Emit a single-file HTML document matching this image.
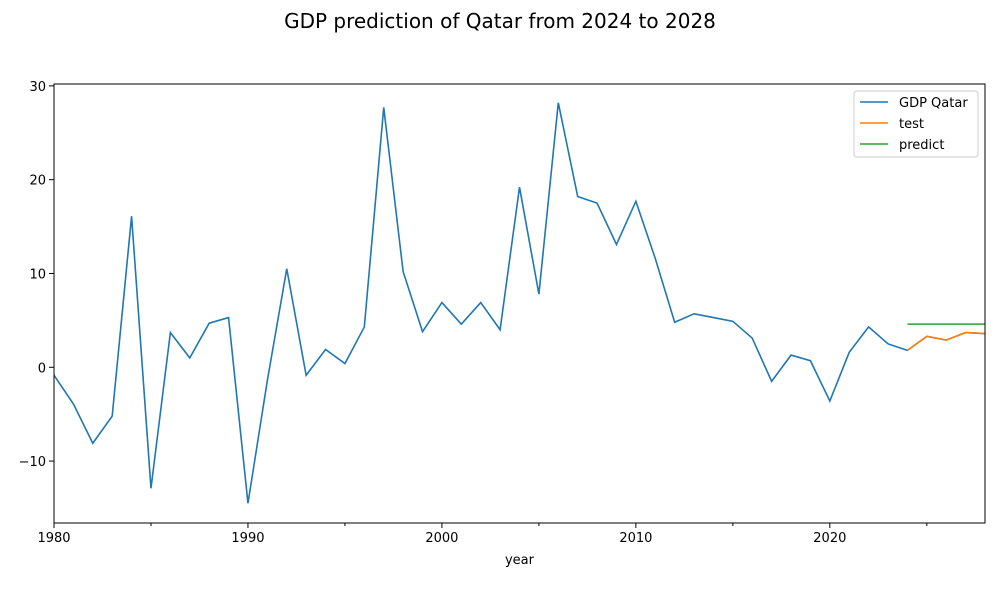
<!DOCTYPE html>
<html><head><meta charset="utf-8"><style>
body{margin:0;background:#fff;font-family:"Liberation Sans","DejaVu Sans",sans-serif;}
svg text{font-family:"DejaVu Sans","Liberation Sans",sans-serif;}
</style></head><body>
<svg id="chart" width="1000" height="600" xmlns="http://www.w3.org/2000/svg">
<text x="500" y="28" text-anchor="middle" font-size="20">GDP prediction of Qatar from 2024 to 2028</text>
<g id="plot"></g>
</svg>
<script>
const years=[1980,1981,1982,1983,1984,1985,1986,1987,1988,1989,1990,1991,1992,1993,1994,1995,1996,1997,1998,1999,2000,2001,2002,2003,2004,2005,2006,2007,2008,2009,2010,2011,2012,2013,2014,2015,2016,2017,2018,2019,2020,2021,2022,2023,2024,2025,2026,2027,2028];
const gdp=[-0.85,-3.9,-8.1,-5.2,16.1,-12.9,3.7,1.0,4.7,5.3,-14.5,-1.4,10.5,-0.85,1.9,0.4,4.3,27.7,10.2,3.8,6.9,4.6,6.9,4.0,19.2,7.8,28.2,18.2,17.5,13.1,17.7,11.6,4.8,5.7,5.3,4.9,3.1,-1.5,1.3,0.7,-3.6,1.6,4.3,2.5,1.8,3.3,2.9,3.7,3.6];
const testYears=[2024,2025,2026,2027,2028];
const testVals=[1.8,3.3,2.9,3.7,3.6];
const predYears=[2024,2025,2026,2027,2028];
const predVals=[4.6,4.6,4.6,4.6,4.6];
const xTicks=[1980,1990,2000,2010,2020];
const xMinor=[1985,1995,2005,2015,2025];
const yTicks=[-10,0,10,20,30];
const yTickLabels=["−10","0","10","20","30"];

const L=54,R=985,T=84,B=523,x0=1980,x1=2028,y0=-16.6,y1=30.2;
const X=v=>L+(v-x0)/(x1-x0)*(R-L);
const Y=v=>B-(v-y0)/(y1-y0)*(B-T);
const NS="http://www.w3.org/2000/svg";
const g=document.getElementById('plot');
function mk(t,a){const e=document.createElementNS(NS,t);for(const k in a)e.setAttribute(k,a[k]);g.appendChild(e);return e;}
// clip
const defs=mk('defs',{});const cp=document.createElementNS(NS,'clipPath');cp.setAttribute('id','c');const cr=document.createElementNS(NS,'rect');
cr.setAttribute('x',L);cr.setAttribute('y',T);cr.setAttribute('width',R-L);cr.setAttribute('height',B-T);cp.appendChild(cr);defs.appendChild(cp);
function line(xs,ys,color,name){const p=mk('polyline',{points:xs.map((v,i)=>X(v)+','+Y(ys[i])).join(' '),fill:'none',stroke:color,'stroke-width':1.6,'clip-path':'url(#c)'});

}
line(years,gdp,'#1f77b4','series-gdp-qatar');
line(testYears,testVals,'#ff7f0e','series-test');
line(predYears,predVals,'#2ca02c','series-predict');
const fr=mk('rect',{x:L,y:T,width:R-L,height:B-T,fill:'none',stroke:'#000','stroke-width':1});


xTicks.forEach(v=>{mk('line',{x1:X(v),x2:X(v),y1:B,y2:B+5,stroke:'#000'});
const t=mk('text',{x:X(v),y:B+19,'text-anchor':'middle','font-size':13});t.textContent=v;

});
xMinor.forEach(v=>mk('line',{x1:X(v),x2:X(v),y1:B,y2:B+3,stroke:'#000'}));
yTicks.forEach((v,i)=>{mk('line',{x1:L-5,x2:L,y1:Y(v),y2:Y(v),stroke:'#000'});
const t=mk('text',{x:L-8,y:Y(v)+5,'text-anchor':'end','font-size':13});t.textContent=yTickLabels[i];

});
const xl=mk('text',{x:(L+R)/2,y:564,'text-anchor':'middle','font-size':13});xl.textContent='year';


// legend
const lg=mk('rect',{x:854,y:91,width:124,height:66,fill:'#fff',stroke:'#ccc',rx:3});


[['GDP Qatar','#1f77b4'],['test','#ff7f0e'],['predict','#2ca02c']].forEach((e,i)=>{
const yy=102+i*21;mk('line',{x1:860,x2:888,y1:yy,y2:yy,stroke:e[1],'stroke-width':1.6});
const t=mk('text',{x:899,y:yy+5,'font-size':13});t.textContent=e[0];

});
</script>
</body></html>
